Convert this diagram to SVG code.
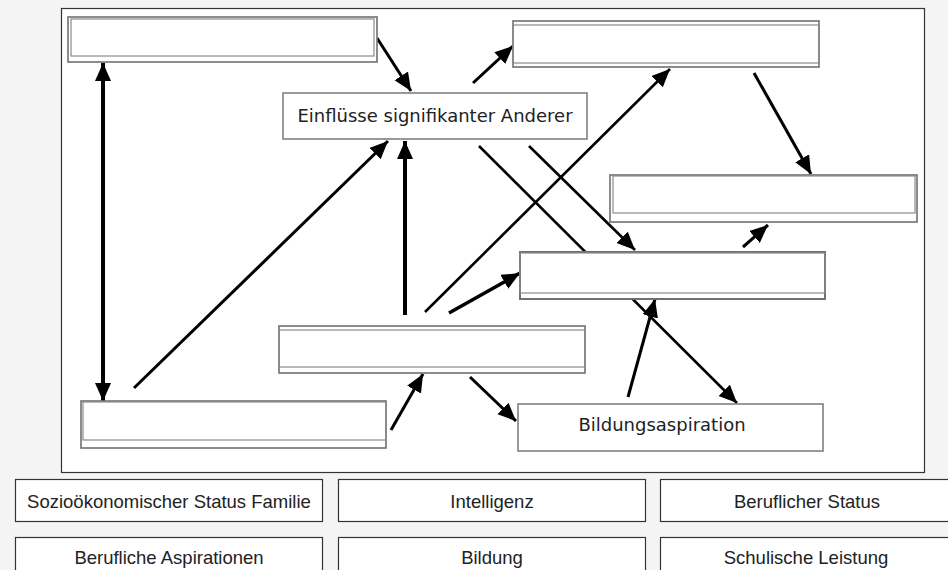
<svg xmlns="http://www.w3.org/2000/svg" width="948" height="570" viewBox="0 0 948 570">
<defs>
<marker id="ah" markerUnits="userSpaceOnUse" markerWidth="20" markerHeight="18" refX="18" refY="8" orient="auto">
<path d="M0,0 L18,8 L0,16 Z" fill="#000"/>
</marker>
<marker id="ahs" markerUnits="userSpaceOnUse" markerWidth="20" markerHeight="18" refX="0" refY="8" orient="auto">
<path d="M18,0 L0,8 L18,16 Z" fill="#000"/>
</marker>
<style>
.bg{fill:#f4f4f4}
.frame{fill:#fff;stroke:#333;stroke-width:1.2}
.n1{fill:#fff;stroke:#707070;stroke-width:1.6}
.n2{fill:none;stroke:#8a8a8a;stroke-width:1.2}
.lbl{fill:#fff;stroke:#808080;stroke-width:1.6}
.lt{font-family:"DejaVu Sans",sans-serif;font-size:18px;fill:#222;text-anchor:middle}
.pal{fill:#fff;stroke:#333;stroke-width:1.2}
.pt{font-family:"Liberation Sans",Arial,sans-serif;font-size:18.5px;fill:#222;text-anchor:middle}
.c{stroke:#000;stroke-width:3;fill:none;marker-end:url(#ah)}
.cl{stroke:#000;stroke-width:2.6;fill:none;marker-end:url(#ah)}
</style>
</defs>
<rect class="bg" x="0" y="0" width="948" height="570"/>
<rect class="frame" x="61.5" y="8.5" width="863" height="464"/>

<g id="connectors">
<line class="c" x1="377" y1="38" x2="411" y2="91"/>
<line class="c" x1="473" y1="83" x2="513" y2="46"/>
<line class="c" x1="103" y1="63" x2="103" y2="401" style="stroke-width:4;marker-start:url(#ahs)"/>
<line class="c" x1="134" y1="388" x2="388" y2="141"/>
<line class="c" x1="405" y1="315" x2="405" y2="141" style="stroke-width:4"/>
<line class="cl" x1="425" y1="312" x2="670" y2="69"/>
<line class="c" x1="449" y1="313" x2="520" y2="273" style="stroke-width:3.5"/>
<line class="cl" x1="479" y1="146" x2="737" y2="403"/>
<line class="cl" x1="529" y1="146" x2="635" y2="250"/>
<line class="c" x1="754" y1="73" x2="811" y2="174"/>
<line class="c" x1="743" y1="247" x2="768" y2="225"/>
<line class="c" x1="628" y1="397" x2="655" y2="299"/>
<line class="c" x1="391" y1="430" x2="423" y2="374"/>
<line class="c" x1="470" y1="377" x2="516" y2="421"/>
</g>

<g id="nodeA">
<rect class="n1" x="68" y="17" width="309" height="45"/>
<rect class="n2" x="71" y="19" width="303" height="37"/>
</g>
<g id="nodeEinfluesse">
<rect class="lbl" x="283" y="93" width="304" height="46"/>
<text class="lt" x="435" y="116" dy="0.35em">Einflüsse signifikanter Anderer</text>
</g>
<g id="nodeB">
<rect class="n1" x="513" y="21" width="306" height="46"/>
<rect class="n2" x="513" y="25" width="306" height="38"/>
</g>
<g id="nodeC">
<rect class="n1" x="610" y="175" width="307" height="47"/>
<rect class="n2" x="613" y="176" width="302" height="37"/>
</g>
<g id="nodeD">
<rect class="n1" x="520" y="252" width="305" height="47" style="stroke-width:2"/>
<rect class="n2" x="520" y="253" width="305" height="40"/>
</g>
<g id="nodeE">
<rect class="n1" x="279" y="326" width="306" height="47"/>
<rect class="n2" x="279" y="330" width="306" height="37"/>
</g>
<g id="nodeF">
<rect class="n1" x="81" y="401" width="305" height="47"/>
<rect class="n2" x="83" y="402" width="303" height="38"/>
</g>
<g id="nodeBildungsaspiration">
<rect class="lbl" x="518" y="404" width="305" height="47"/>
<text class="lt" x="662" y="425" dy="0.35em">Bildungsaspiration</text>
</g>

<g id="palette">
<g id="p1"><rect class="pal" x="15.5" y="479.5" width="307" height="42"/><text class="pt" x="169" y="508">Sozioökonomischer Status Familie</text></g>
<g id="p2"><rect class="pal" x="338.5" y="479.5" width="307" height="42"/><text class="pt" x="492" y="508">Intelligenz</text></g>
<g id="p3"><rect class="pal" x="660.5" y="479.5" width="292" height="42"/><text class="pt" x="807" y="508">Beruflicher Status</text></g>
<g id="p4"><rect class="pal" x="15.5" y="537.5" width="307" height="42"/><text class="pt" x="169" y="564">Berufliche Aspirationen</text></g>
<g id="p5"><rect class="pal" x="338.5" y="537.5" width="307" height="42"/><text class="pt" x="492" y="564">Bildung</text></g>
<g id="p6"><rect class="pal" x="660.5" y="537.5" width="292" height="42"/><text class="pt" x="806" y="564">Schulische Leistung</text></g>
</g>
</svg>
